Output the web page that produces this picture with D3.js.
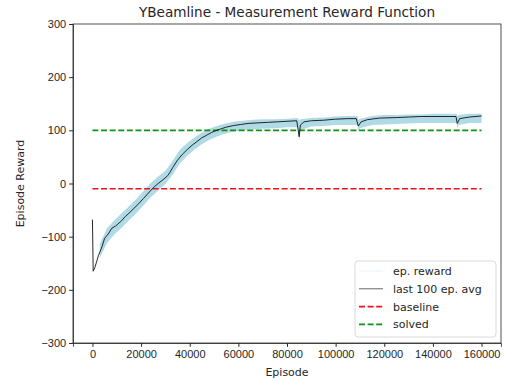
<!DOCTYPE html>
<html>
<head>
<meta charset="utf-8">
<script src="https://cdn.jsdelivr.net/npm/d3@7"></script>
<style>
  body { margin: 0; background: #fff; }
  svg { font-family: "DejaVu Sans", sans-serif; }
  .tick text { font-size: 11px; fill: #262626; }
  .tick line, .domain { stroke: #262626; }
</style>
</head>
<body>
<svg width="505" height="381"></svg>
<script>
// running mean of the last 100 episodes
const avgEpisodes = [0, 300, 1000, 2500, 4000, 5000, 6500, 8000, 9500, 10500, 12000, 13500, 15000, 17000, 19000,
    21000, 23000, 25000, 27000, 29000, 31000, 32000, 33000, 35000, 37000, 39000, 41000, 43000, 45000, 47000,
    49000, 51000, 53000, 55000, 58000, 61000, 64000, 68000, 72000, 76000, 80000, 84000, 85000, 85500, 87000,
    90000, 95000, 100000, 105000, 108500, 109300, 110500, 113000, 118000, 125000, 130000, 135000, 140000,
    145000, 149500, 150000, 151000, 155000, 160000]
const avgReward = [-68, -165, -158, -135, -118, -103, -95, -84, -80, -76, -70, -62, -56, -47, -38,
    -28, -18, -8, 0, 7, 15, 22, 30, 44, 55, 64, 72, 79, 86, 91,
    96, 100, 103, 106, 109, 111, 113, 114, 115, 116, 117, 118, 88, 110, 116,
    118, 119, 121, 122, 122, 108, 116, 120, 123, 124, 125, 126, 126,
    126, 126, 113, 122, 125, 127]

// spread of the raw episode rewards
const bandEpisodes = [3000, 6000, 9000, 12000, 15000, 18000, 21000, 24000, 27000, 30000, 33000, 36000, 39000,
    42000, 45000, 48000, 51000, 54000, 58000, 62000, 66000, 70000, 75000, 80000, 84500, 85000, 85500, 90000,
    95000, 100000, 105000, 109000, 109300, 110000, 115000, 120000, 125000, 130000, 135000, 140000, 145000,
    149800, 150000, 150500, 155000, 160000]
const bandLow = [-140, -112, -96, -83, -69, -56, -41, -26, -13, -1, 17, 38, 52,
    64, 74, 82, 88, 93, 98, 100, 102, 103, 104, 106, 106, 80, 100, 107,
    108, 110, 110, 110, 98, 104, 110, 111, 112, 113, 114, 114, 114,
    114, 104, 110, 114, 114]
const bandHigh = [-114, -84, -69, -56, -43, -29, -14, 1, 13, 24, 43, 64, 76,
    87, 96, 103, 108, 112, 116, 118, 120, 121, 121, 122, 123, 118, 121, 123,
    124, 126, 127, 127, 120, 122, 127, 129, 129, 130, 130, 131, 131,
    131, 126, 129, 131, 131]

const baseline = -10
const solved = 100
const refLineEpisodes = [0, 160000]
const xTicks = [0, 20000, 40000, 60000, 80000, 100000, 120000, 140000, 160000]
const yTicks = [-300, -200, -100, 0, 100, 200, 300]

const svg = d3.select('svg')
const mLeft = 73, mRight = 501, mTop = 24, mBottom = 343

const x = d3.scaleLinear().domain([-8000, 168000]).range([mLeft, mRight])
const y = d3.scaleLinear().domain([-300, 300]).range([mBottom, mTop])

// band of episode rewards
const band = bandEpisodes.map((e, i) => ({ e, lo: bandLow[i], hi: bandHigh[i] }))
svg.append('path')
    .datum(band)
    .attr('fill', '#add8e6')
    .attr('opacity', 0.95)
    .attr('d', d3.area().x(d => x(d.e)).y0(d => y(d.lo)).y1(d => y(d.hi)))

// reference lines
const drawRef = (val, color) => {
    svg.append('path')
        .datum(refLineEpisodes)
        .attr('fill', 'none')
        .attr('stroke', color)
        .attr('stroke-width', 1.6)
        .attr('stroke-dasharray', '6,2.6')
        .attr('d', d3.line().x(d => x(d)).y(() => y(val)))
}
drawRef(baseline, '#e8141c')
drawRef(solved, '#12901a')

// average line
const avg = avgEpisodes.map((e, i) => ({ e, v: avgReward[i] }))
svg.append('path')
    .datum(avg)
    .attr('fill', 'none')
    .attr('stroke', '#111')
    .attr('stroke-width', 0.9)
    .attr('d', d3.line().x(d => x(d.e)).y(d => y(d.v)))

// axes
svg.append('g')
    .attr('transform', `translate(0,${mBottom})`)
    .call(d3.axisBottom(x).tickValues(xTicks).tickFormat(d3.format('d')).tickSizeOuter(0).tickSize(3.8).tickPadding(3))
svg.append('g')
    .attr('transform', `translate(${mLeft},0)`)
    .call(d3.axisLeft(y).tickValues(yTicks).tickFormat(d => d < 0 ? '\u2212' + Math.abs(d) : d).tickSizeOuter(0).tickSize(3.8).tickPadding(3))

// frame
svg.append('rect')
    .attr('x', mLeft).attr('y', mTop)
    .attr('width', mRight - mLeft).attr('height', mBottom - mTop)
    .attr('fill', 'none').attr('stroke', '#262626').attr('stroke-width', 0.8)
svg.selectAll('.domain').attr('stroke-width', 0.8)

// labels
svg.append('text')
    .attr('x', (mLeft + mRight) / 2).attr('y', 17)
    .attr('text-anchor', 'middle')
    .attr('font-size', 13.6).attr('fill', '#262626')
    .text('YBeamline - Measurement Reward Function')
svg.append('text')
    .attr('x', (mLeft + mRight) / 2).attr('y', 376)
    .attr('text-anchor', 'middle')
    .attr('font-size', 11).attr('fill', '#262626')
    .text('Episode')
svg.append('text')
    .attr('transform', `translate(24,${(mTop + mBottom) / 2}) rotate(-90)`)
    .attr('text-anchor', 'middle')
    .attr('font-size', 11).attr('fill', '#262626')
    .text('Episode Reward')

// legend
const legend = svg.append('g').attr('transform', 'translate(355,261)')
legend.append('rect')
    .attr('width', 141).attr('height', 76).attr('rx', 3)
    .attr('fill', 'rgba(255,255,255,0.85)').attr('stroke', '#d0d0d0').attr('stroke-width', 0.8)
const entries = [
    { label: 'ep. reward', color: '#add8e6', op: 0.3, w: 1, dash: null },
    { label: 'last 100 ep. avg', color: '#555', op: 1, w: 0.9, dash: null },
    { label: 'baseline', color: '#e8141c', op: 1, w: 1.6, dash: '6,2.6' },
    { label: 'solved', color: '#12901a', op: 1, w: 1.6, dash: '6,2.6' },
]
entries.forEach((d, i) => {
    const cy = 10 + i * 17.8
    legend.append('line')
        .attr('x1', 4).attr('x2', 28).attr('y1', cy).attr('y2', cy)
        .attr('stroke', d.color).attr('stroke-opacity', d.op)
        .attr('stroke-width', d.w).attr('stroke-dasharray', d.dash)
    legend.append('text')
        .attr('x', 38).attr('y', cy + 4)
        .attr('font-size', 11).attr('fill', '#262626')
        .text(d.label)
})
</script>
</body>
</html>
